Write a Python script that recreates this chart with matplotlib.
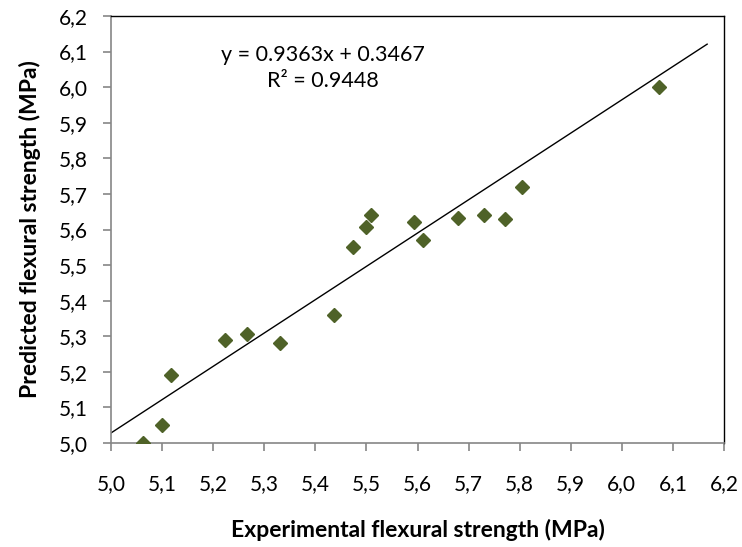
import matplotlib
matplotlib.use("Agg")
import matplotlib.pyplot as plt
import numpy as np

plt.rcParams['font.family'] = ['Lato', 'DejaVu Sans']

experimental = [5.063, 5.100, 5.118, 5.223, 5.266, 5.331, 5.437, 5.473, 5.499, 5.508,
                5.594, 5.611, 5.679, 5.730, 5.772, 5.805, 6.072]
predicted = [5.000, 5.051, 5.190, 5.290, 5.305, 5.280, 5.360, 5.551, 5.608, 5.641,
             5.621, 5.571, 5.632, 5.641, 5.630, 5.720, 6.000]
slope = 0.9363
intercept = 0.3467
r2 = 0.9448
trend_x = [5.0, 6.167]
ticks = [5.0, 5.1, 5.2, 5.3, 5.4, 5.5, 5.6, 5.7, 5.8, 5.9, 6.0, 6.1, 6.2]
tick_labels = [f"{t:.1f}".replace('.', ',') for t in ticks]

fig = plt.figure(figsize=(7.42, 5.47), dpi=100)
ax = fig.add_axes([111/742, 1-443/547, (724-111)/742, (443-16)/547])

tx = np.array(trend_x)
ax.plot(tx, slope*tx + intercept, color='black', lw=1.0, zorder=2)
ax.plot(experimental, predicted, linestyle='none', marker='D', ms=7.5,
        color='#4F6228', markeredgecolor='#4F6228', zorder=3)

ax.set_xlim(5.0, 6.2)
ax.set_ylim(5.0, 6.2)
ax.set_xticks(ticks)
ax.set_xticklabels(tick_labels)
ax.set_yticks(ticks)
ax.set_yticklabels(tick_labels)

gray = '#868686'
for s in ['left', 'bottom']:
    ax.spines[s].set_color(gray)
    ax.spines[s].set_linewidth(1.2)
for s in ['top', 'right']:
    ax.spines[s].set_color('black')
    ax.spines[s].set_linewidth(1.0)

ax.tick_params(axis='x', direction='out', length=5.5, width=1.2, color=gray,
               pad=17, labelsize=15, labelcolor='black')
ax.tick_params(axis='y', direction='out', length=5.5, width=1.2, color=gray,
               pad=11, labelsize=15, labelcolor='black')

ax.set_xlabel('Experimental flexural strength (MPa)', fontsize=16.5, fontweight='bold', labelpad=18)
ax.set_ylabel('Predicted flexural strength (MPa)', fontsize=16.5, fontweight='bold', labelpad=13)

ax.text(5.414, 6.09, f"y = {slope:.4f}x + {intercept:.4f}", fontsize=15.5, ha='center', va='center')
ax.text(5.414, 6.018, f"R² = {r2:.4f}", fontsize=15.5, ha='center', va='center')

fig.savefig('out.png', dpi=100)
